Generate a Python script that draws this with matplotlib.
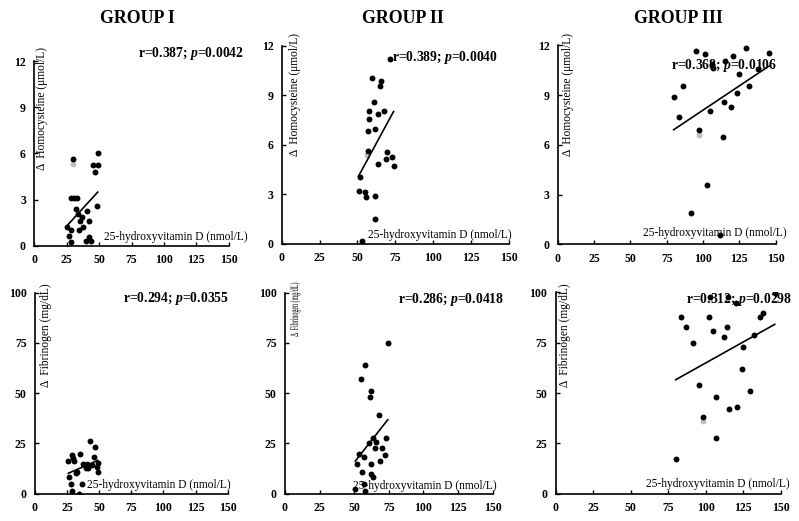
import numpy as np
import matplotlib
matplotlib.use('Agg')
import matplotlib.pyplot as plt
from matplotlib.textpath import TextPath
from matplotlib.patches import PathPatch
from matplotlib.font_manager import FontProperties
from matplotlib.transforms import Affine2D, IdentityTransform

plt.rcParams['font.family'] = ['Liberation Serif', 'DejaVu Serif']
plt.rcParams['mathtext.fontset'] = 'custom'
plt.rcParams['mathtext.it'] = 'Liberation Serif:italic:bold'
plt.rcParams['mathtext.rm'] = 'Liberation Serif'

# data (x = 25-hydroxyvitamin D, y = delta)
g1_hcy_x = [29.6, 48.9, 45.5, 48.9, 46.8, 28.0, 30.6, 32.7, 48.1, 31.9, 40.9, 34.0, 36.5, 35.2,
            41.9, 25.5, 37.8, 28.0, 34.7, 26.8, 42.4, 28.0, 39.9, 43.7]
g1_hcy_y = [5.61, 6.0, 5.22, 5.22, 4.81, 3.12, 3.12, 3.12, 2.6, 2.38, 2.23, 2.04, 1.84, 1.62,
            1.62, 1.19, 1.19, 1.02, 1.02, 0.63, 0.58, 0.22, 0.32, 0.32]

g2_hcy_x = [71.6, 59.7, 65.7, 64.8, 60.6, 57.8, 67.6, 63.7, 57.8, 56.9, 61.7, 56.7, 69.6, 72.7,
            68.8, 73.8, 63.7, 51.8, 50.7, 54.9, 55.8, 61.7, 61.7, 52.7]
g2_hcy_y = [11.17, 10.06, 9.86, 9.56, 8.6, 8.04, 8.04, 7.84, 7.54, 6.83, 6.93, 5.62, 5.54, 5.23,
            5.11, 4.73, 4.83, 4.02, 3.21, 3.11, 2.81, 2.91, 1.49, 0.18]

g3_hcy_x = [95.4, 101.4, 129.6, 145.4, 120.4, 115.1, 106.2, 106.7, 137.6, 124.7, 86.4, 131.6,
            79.8, 123.6, 114.4, 119.5, 104.6, 83.5, 97.4, 113.5, 102.5, 91.5, 111.7]
g3_hcy_y = [11.68, 11.46, 11.86, 11.56, 11.36, 11.06, 10.85, 10.61, 10.55, 10.25, 9.57, 9.55,
            8.87, 9.15, 8.56, 8.28, 8.06, 7.68, 6.88, 6.47, 3.56, 1.87, 0.56]

g1_fib_x = [42.8, 47.0, 34.8, 28.5, 29.8, 45.9, 26.0, 30.6, 37.6, 40.7, 48.8, 44.4, 48.0, 39.7,
            41.5, 33.0, 31.9, 48.8, 26.7, 27.8, 36.3, 28.8, 34.5]
g1_fib_y = [26.2, 23.1, 20.0, 19.1, 17.6, 18.1, 16.1, 16.3, 14.9, 14.9, 15.1, 14.3, 13.3, 12.6,
            12.6, 10.9, 10.1, 10.9, 8.1, 5.0, 5.0, 1.3, 0.0]

g2_fib_x = [74.2, 58.0, 55.1, 62.1, 61.2, 67.9, 63.8, 73.0, 66.0, 60.4, 53.5, 65.3, 69.8, 72.0,
            56.8, 52.0, 62.1, 68.4, 55.9, 62.1, 63.8, 57.0, 50.8, 58.0]
g2_fib_y = [75.1, 64.0, 57.0, 51.1, 48.1, 39.0, 27.9, 27.9, 25.9, 25.0, 19.9, 22.9, 22.9, 19.1,
            18.1, 14.9, 14.9, 16.1, 10.9, 10.0, 8.1, 5.0, 2.2, 1.3]

g3_fib_x = [146.0, 102.9, 115.1, 120.0, 83.8, 102.0, 136.0, 138.0, 86.9, 114.0, 104.7, 112.0,
            132.0, 91.8, 125.1, 124.0, 95.8, 129.8, 106.7, 115.8, 120.9, 98.0, 106.7, 80.0]
g3_fib_y = [99.8, 97.8, 97.8, 94.9, 87.9, 87.9, 87.9, 89.9, 82.9, 82.9, 81.0, 78.0, 78.8, 75.0,
            73.0, 61.9, 54.0, 51.0, 48.0, 42.0, 42.9, 37.9, 27.8, 17.0]

# faint grey ghost markers visible in the reference
ghost_x = [29.6, 56.5, 97.4, 98.0]
ghost_y = [5.3, 5.4, 6.6, 36.0]

titles = ['GROUP I', 'GROUP II', 'GROUP III']
stats = ['r=0.387; $p$=0.0042', 'r=0.389; $p$=0.0040', 'r=0.368; $p$=0.0106',
         'r=0.294; $p$=0.0355', 'r=0.286; $p$=0.0418', 'r=0.312; $p$=0.0298']
xticks = [0, 25, 50, 75, 100, 125, 150]
hcy_ticks = [0, 3, 6, 9, 12]
fib_ticks = [0, 25, 50, 75, 100]

W, H = 799, 521
fig = plt.figure(figsize=(W / 100, H / 100), dpi=100)

# axes boxes in pixels: left, right, top, bottom
boxes = [(34.3, 228.7, 61.0, 245.7), (281.7, 509.0, 45.7, 243.7), (557.7, 775.7, 45.3, 244.3),
         (35.0, 227.7, 292.7, 493.7), (285.0, 492.7, 292.7, 493.7), (555.7, 780.7, 292.3, 493.7)]
# stat text right edge / centre y, x-label right edge / centre y, y-label centre x / top
stat_pos = [(244, 53), (498, 57.7), (777, 65), (228.7, 298.3), (503.7, 299.3), (792, 300)]
xlab_pos = [(248, 237), (511.7, 235), (786.7, 233.3), (231, 485), (496.7, 485.7), (789.3, 484.3)]
ylab_pos = [(42, 47), (295, 33), (567.7, 33), (45.7, 283), (294, 283), (565, 283)]
# the reference squeezes the middle fibrinogen label to about half its length
ylab_squeeze = [1, 1, 1, 1, 0.52, 1]

data = [(g1_hcy_x, g1_hcy_y), (g2_hcy_x, g2_hcy_y), (g3_hcy_x, g3_hcy_y),
        (g1_fib_x, g1_fib_y), (g2_fib_x, g2_fib_y), (g3_fib_x, g3_fib_y)]

for i, (x, y) in enumerate(data):
    l, r, t, b = boxes[i]
    ax = fig.add_axes([l / W, 1 - b / H, (r - l) / W, (b - t) / H])
    ax.scatter(x, y, s=18, color='black', zorder=3, linewidths=0)
    # least squares trend line
    k, c = np.polyfit(x, y, 1)
    xs = np.array([min(x), max(x)])
    ax.plot(xs, k * xs + c, color='black', lw=1.2, zorder=2)

    ax.set_xlim(0, 150)
    if i < 3:
        ax.set_ylim(0, 12)
        ax.set_yticks(hcy_ticks)
        ylab = '\u0394  Homocysteine (\u03bcmol/L)'
    else:
        ax.set_ylim(0, 100)
        ax.set_yticks(fib_ticks)
        ylab = '\u0394  Fibrinogen (mg/dL)'
    ax.set_xticks(xticks)
    for s in ['top', 'right']:
        ax.spines[s].set_visible(False)
    for s in ['left', 'bottom']:
        ax.spines[s].set_linewidth(1.2)
    ax.tick_params(direction='in', length=3, width=1, pad=6, labelsize=8.5)
    for lab in ax.get_xticklabels() + ax.get_yticklabels():
        lab.set_fontweight('bold')

    sx, sy = stat_pos[i]
    fig.text(sx / W, 1 - sy / H, stats[i], ha='right', va='center', fontsize=9.8, fontweight='bold')
    xx, xy = xlab_pos[i]
    fig.text(xx / W, 1 - xy / H, '25-hydroxyvitamin D (nmol/L)', ha='right', va='center', fontsize=8.3)
    yx, yy = ylab_pos[i]
    if ylab_squeeze[i] == 1:
        fig.text(yx / W, 1 - yy / H, ylab, rotation=90, ha='center', va='top', fontsize=8.3)
    else:
        fp = FontProperties(family='Liberation Serif', size=8.3)
        tp = TextPath((0, 0), ylab, prop=fp)
        length = tp.get_extents().width * 100 / 72 * ylab_squeeze[i]
        tr = (Affine2D().scale(100 / 72 * ylab_squeeze[i], 100 / 72).rotate_deg(90)
              .translate(yx + 4, H - yy - length))
        fig.add_artist(PathPatch(tp, transform=tr + IdentityTransform(), color='black', lw=0))

ax_all = fig.axes
ax_all[0].scatter(ghost_x[:1], ghost_y[:1], s=18, color='#999999', alpha=0.6, linewidths=0)
ax_all[1].scatter(ghost_x[1:2], ghost_y[1:2], s=18, color='#999999', alpha=0.6, linewidths=0)
ax_all[2].scatter(ghost_x[2:3], ghost_y[2:3], s=18, color='#999999', alpha=0.6, linewidths=0)
ax_all[5].scatter(ghost_x[3:], ghost_y[3:], s=18, color='#999999', alpha=0.6, linewidths=0)

for cx, name in zip([137.5, 402.5, 678], titles):
    fig.text(cx / W, 1 - 18.5 / H, name, ha='center', va='center', fontsize=12.9, fontweight='bold')

fig.savefig('out.png', dpi=100)
